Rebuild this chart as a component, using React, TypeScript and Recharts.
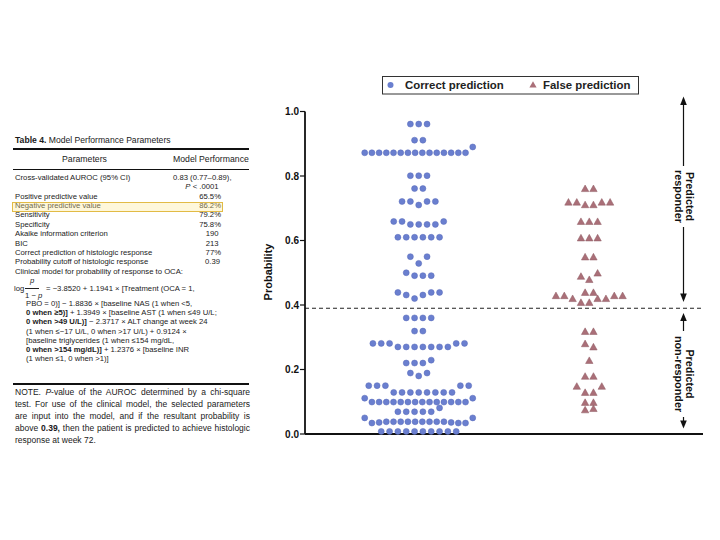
import { Legend, ReferenceLine, Scatter, ScatterChart, XAxis, YAxis } from 'recharts'

const groups = ['Correct prediction', 'False prediction']
const groupCenters = [2, 5]
const yTicks = [0, 0.2, 0.4, 0.6, 0.8, 1.0]
const cutoff = 0.39

const correctRows: number[][] = [
  [0.961, 0.961, 0.961],
  [0.911, 0.911],
  [0.872, 0.872, 0.872, 0.872, 0.872, 0.872, 0.872, 0.872, 0.872, 0.872, 0.872, 0.872, 0.872, 0.872, 0.872, 0.89],
  [0.801, 0.801, 0.801],
  [0.761, 0.761],
  [0.721, 0.721, 0.71, 0.721, 0.721],
  [0.659, 0.659, 0.65, 0.65, 0.65, 0.65, 0.659],
  [0.61, 0.61, 0.61, 0.61, 0.61, 0.61],
  [0.55, 0.529, 0.55],
  [0.5, 0.491, 0.491, 0.491],
  [0.439, 0.431, 0.42, 0.431, 0.439, 0.439],
  [0.36, 0.36, 0.36, 0.36],
  [0.319, 0.319],
  [0.281, 0.281, 0.281, 0.27, 0.27, 0.27, 0.27, 0.27, 0.27, 0.27, 0.281, 0.281],
  [0.22, 0.22, 0.22, 0.229],
  [0.189, 0.18, 0.189],
  [0.15, 0.15, 0.15, 0.129, 0.129, 0.129, 0.129, 0.129, 0.129, 0.129, 0.129, 0.15, 0.15],
  [0.111, 0.099, 0.099, 0.099, 0.099, 0.099, 0.099, 0.099, 0.099, 0.099, 0.099, 0.099, 0.099, 0.099, 0.099, 0.111],
  [0.069, 0.069, 0.069, 0.069, 0.069, 0.081],
  [0.05, 0.034, 0.036, 0.038, 0.038, 0.038, 0.038, 0.038, 0.038, 0.038, 0.038, 0.038, 0.036, 0.034, 0.034, 0.05],
  [0.008, 0.008, 0.008, 0.008, 0.008, 0.008, 0.008, 0.008, 0.008, 0.008],
]

const falseRows: number[][] = [
  [0.76, 0.76],
  [0.718, 0.718, 0.71, 0.71, 0.718, 0.718],
  [0.658, 0.658, 0.658],
  [0.607, 0.607, 0.607],
  [0.548, 0.548],
  [0.488, 0.478, 0.498],
  [0.438, 0.438],
  [0.428, 0.428, 0.419, 0.407, 0.407, 0.419, 0.419, 0.428, 0.428],
  [0.317, 0.317],
  [0.279, 0.269],
  [0.227],
  [0.178, 0.178],
  [0.147, 0.128, 0.128, 0.147],
  [0.097, 0.097],
  [0.074, 0.078],
]

const paramRows = [
  ['Positive predictive value', '65.5%'],
  ['Negative predictive value', '86.2%'],
  ['Sensitivity', '79.2%'],
  ['Specificity', '75.8%'],
  ['Akaike information criterion', '190'],
  ['BIC', '213'],
  ['Correct prediction of histologic response', '77%'],
  ['Probability cutoff of histologic response', '0.39'],
]

const noteLines = [
  'test. For use of the clinical model, the selected parameters',
  'are input into the model, and if the resultant probability is',
]

const BLUE = '#6a7fcf'
const RED = '#aa6f78'
const FONT = '"Liberation Sans", Arial, sans-serif'

const STEP = 0.1465
const MAX_SPAN = 1.9

function swarm(rows: number[][], center: number) {
  const out: { x: number; y: number }[] = []
  rows.forEach((row) => {
    const n = row.length
    const step = n > 1 ? Math.min(STEP, MAX_SPAN / (n - 1)) : 0
    row.forEach((v, i) => out.push({ x: center + (i - (n - 1) / 2) * step, y: v }))
  })
  return out
}

const correctData = swarm(correctRows, groupCenters[0])
const falseData = swarm(falseRows, groupCenters[1])

function Dot(props: any) {
  return <circle cx={props.cx} cy={props.cy} r={3} fill={BLUE} stroke="#5668b8" strokeWidth={0.5} />
}

function Tri(props: any) {
  const { cx, cy } = props
  return (
    <polygon
      points={`${cx},${cy - 3.9} ${cx - 3.7},${cy + 2.7} ${cx + 3.7},${cy + 2.7}`}
      fill={RED}
      stroke="#8c5860"
      strokeWidth={0.5}
    />
  )
}

function LegendBox() {
  const txt = { fontFamily: FONT, fontWeight: 700, fontSize: 11.4, fill: '#222' }
  return (
    <svg width={257} height={19} style={{ display: 'block' }}>
      <rect x={0.5} y={0.5} width={256} height={17.5} fill="#fff" stroke="#333" strokeWidth={1} />
      <circle cx={8.5} cy={9} r={3} fill={BLUE} />
      <polygon points="151,5.2 147.4,11.6 154.6,11.6" fill={RED} />
      <text x={23} y={9.3} dominantBaseline="central" {...txt}>
        {groups[0]}
      </text>
      <text x={161} y={9.3} dominantBaseline="central" {...txt}>
        {groups[1]}
      </text>
    </svg>
  )
}

function Txt({ x, y, size = 7.7, right, children, style }: any) {
  const pos = right !== undefined ? { right: 720 - right } : { left: x }
  return (
    <div
      style={{
        position: 'absolute',
        ...pos,
        top: y - size * 0.6,
        fontSize: size,
        lineHeight: `${size * 1.2}px`,
        whiteSpace: 'nowrap',
        ...style,
      }}
    >
      {children}
    </div>
  )
}

function Rule({ y, h }: { y: number; h: number }) {
  return <div style={{ position: 'absolute', left: 13, width: 236, top: y - h / 2, height: h, background: '#111' }} />
}

function TablePanel() {
  const formula = [
    <>PBO = 0)] − 1.8836 × [baseline NAS (1 when &lt;5,</>,
    <><b>0 when ≥5)]</b> + 1.3949 × [baseline AST (1 when ≤49 U/L;</>,
    <><b>0 when &gt;49 U/L)]</b> − 2.3717 × ALT change at week 24</>,
    <>(1 when ≤−17 U/L, 0 when &gt;17 U/L) + 0.9124 ×</>,
    <>[baseline triglycerides (1 when ≤154 mg/dL,</>,
    <><b>0 when &gt;154 mg/dL)]</b> + 1.2376 × [baseline INR</>,
    <>(1 when ≤1, 0 when &gt;1)]</>,
  ]
  const formulaY = [303.3, 313, 322, 331.7, 340.7, 349.5, 358.5]
  return (
    <div style={{ position: 'absolute', left: 0, top: 0, width: 720, height: 540, fontFamily: FONT, color: '#1a1a1a' }}>
      <Txt x={15} y={140} size={8.6}>
        <b>Table 4.</b> Model Performance Parameters
      </Txt>
      <Rule y={148.7} h={2} />
      <Txt x={62} y={159.7} size={8.7}>Parameters</Txt>
      <Txt x={173} y={159.7} size={8.7}>Model Performance</Txt>
      <Rule y={169.7} h={0.9} />
      <Txt x={15} y={177.3}>Cross-validated AUROC (95% CI)</Txt>
      <Txt x={173} y={177.3}>0.83 (0.77–0.89),</Txt>
      <Txt right={218.5} y={187}>
        <i>P</i> &lt; .0001
      </Txt>
      {paramRows.map(([label, value], i) => (
        <div key={label}>
          <Txt x={15} y={196.3 + i * 9.4}>{label}</Txt>
          <Txt right={value.endsWith('%') ? 221 : value.length === 3 ? 218.5 : 220} y={196.3 + i * 9.4}>{value}</Txt>
        </div>
      ))}
      <div
        style={{
          position: 'absolute',
          left: 12,
          top: 201.5,
          width: 211,
          height: 10.8,
          boxSizing: 'border-box',
          border: '1.2px solid #e2bb45',
          background: 'rgba(252, 232, 150, 0.35)',
        }}
      />
      <Txt x={15} y={271.7}>Clinical model for probability of response to OCA:</Txt>
      <Txt x={14} y={288.3}>log</Txt>
      <Txt x={30} y={280.3} style={{ fontStyle: 'italic' }}>p</Txt>
      <div style={{ position: 'absolute', left: 25, top: 288, width: 14, height: 0.8, background: '#222' }} />
      <Txt x={25} y={295.5}>
        1 − <i>p</i>
      </Txt>
      <Txt x={46} y={288.3}>= −3.8520 + 1.1941 × [Treatment (OCA = 1,</Txt>
      {formula.map((line, i) => (
        <Txt key={i} x={26} y={formulaY[i]}>
          {line}
        </Txt>
      ))}
      <Rule y={384} h={2} />
      <div style={{ position: 'absolute', left: 15, top: 387, width: 235, fontSize: 8.5, lineHeight: '11.9px' }}>
        <div style={{ textAlign: 'justify', textAlignLast: 'justify', whiteSpace: 'nowrap' }}>
          NOTE. <i>P</i>-value of the AUROC determined by a chi-square
        </div>
        {noteLines.map((l) => (
          <div key={l} style={{ textAlign: 'justify', textAlignLast: 'justify', whiteSpace: 'nowrap' }}>
            {l}
          </div>
        ))}
        <div style={{ textAlign: 'justify', textAlignLast: 'justify', whiteSpace: 'nowrap' }}>
          above <b>0.39,</b> then the patient is predicted to achieve histologic
        </div>
        <div style={{ whiteSpace: 'nowrap' }}>response at week 72.</div>
      </div>
    </div>
  )
}

function SideArrows() {
  const ax = 683.5
  const lbl = { fontFamily: FONT, fontWeight: 700, fontSize: 10.8, fill: '#111' }
  return (
    <svg width={720} height={540} style={{ position: 'absolute', left: 0, top: 0, pointerEvents: 'none' }}>
      <g stroke="#111" strokeWidth={1.2}>
        <line x1={ax} y1={104} x2={ax} y2={166} />
        <line x1={ax} y1={227} x2={ax} y2={294} />
        <line x1={ax} y1={320} x2={ax} y2={331} />
        <line x1={ax} y1={417} x2={ax} y2={421} />
      </g>
      <g fill="#111">
        <polygon points={`${ax},96.5 ${ax - 3.3},105 ${ax + 3.3},105`} />
        <polygon points={`${ax},302 ${ax - 3.3},293.5 ${ax + 3.3},293.5`} />
        <polygon points={`${ax},313 ${ax - 3.3},321 ${ax + 3.3},321`} />
        <polygon points={`${ax},428.5 ${ax - 3.3},420.5 ${ax + 3.3},420.5`} />
      </g>
      <g transform={`rotate(90, ${ax + 1}, 196.5)`}>
        <text x={ax + 1} y={196.5 - 5.5} textAnchor="middle" dominantBaseline="central" {...lbl}>
          Predicted
        </text>
        <text x={ax + 1} y={196.5 + 5.5} textAnchor="middle" dominantBaseline="central" {...lbl}>
          responder
        </text>
      </g>
      <g transform={`rotate(90, ${ax + 1}, 374)`}>
        <text x={ax + 1} y={374 - 5.5} textAnchor="middle" dominantBaseline="central" {...lbl}>
          Predicted
        </text>
        <text x={ax + 1} y={374 + 5.5} textAnchor="middle" dominantBaseline="central" {...lbl}>
          non-responder
        </text>
      </g>
      <text
        x={268}
        y={272}
        transform="rotate(-90, 268, 272)"
        textAnchor="middle"
        dominantBaseline="central"
        fontFamily={FONT}
        fontWeight={700}
        fontSize={11}
        fill="#111"
      >
        Probability
      </text>
    </svg>
  )
}

export default function App() {
  return (
    <div style={{ position: 'absolute', left: 0, top: 0, width: 720, height: 540, background: '#fff', overflow: 'hidden' }}>
      <TablePanel />
      <div style={{ position: 'absolute', left: 0, top: 0 }}>
        <ScatterChart width={720} height={540} margin={{ top: 111.5, right: 17, bottom: 106, left: 265 }}>
          <XAxis type="number" dataKey="x" domain={[0, 7]} hide height={0} />
          <YAxis
            type="number"
            dataKey="y"
            domain={[0, 1]}
            ticks={yTicks}
            interval={0}
            width={40}
            tickSize={5}
            tickMargin={1}
            tickFormatter={(v: number) => v.toFixed(1)}
            tick={{ fill: '#111', fontSize: 10, fontWeight: 700, fontFamily: FONT }}
            axisLine={{ stroke: '#111', strokeWidth: 1.8 }}
            tickLine={{ stroke: '#111', strokeWidth: 1.2 }}
          />
          <ReferenceLine y={cutoff} stroke="#222" strokeWidth={1.2} strokeDasharray="4 3" />
          <ReferenceLine y={0} stroke="#111" strokeWidth={1.8} />
          <Scatter name={groups[0]} data={correctData} fill={BLUE} shape={Dot} isAnimationActive={false} />
          <Scatter name={groups[1]} data={falseData} fill={RED} shape={Tri} isAnimationActive={false} />
          <Legend
            verticalAlign="middle"
            align="center"
            content={() => <LegendBox />}
            wrapperStyle={{ position: 'absolute', left: 382, top: 76, width: 257, height: 19 }}
          />
        </ScatterChart>
      </div>
      <SideArrows />
    </div>
  )
}
